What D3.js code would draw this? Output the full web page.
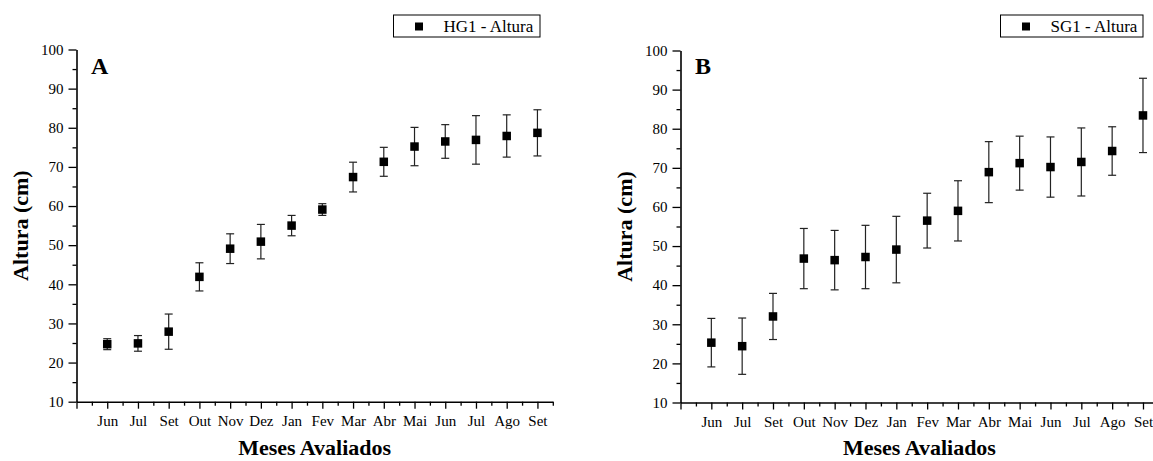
<!DOCTYPE html>
<html>
<head>
<meta charset="utf-8">
<script src="https://cdn.jsdelivr.net/npm/d3@7"></script>
<style>
  body { margin: 0; background: #fff; }
  svg { display: block; }
  svg text { font-family: 'Liberation Serif', 'Times New Roman', 'DejaVu Serif', serif; fill: #000; }
</style>
</head>
<body>
<svg id="chart" width="1153" height="461"></svg>
<script>
// meses avaliados (eixo x)
var meses = ["Jun", "Jul", "Set", "Out", "Nov", "Dez", "Jan", "Fev", "Mar", "Abr", "Mai", "Jun", "Jul", "Ago", "Set"];

// HG1 - altura media e desvio
var alturaHG1 = [24.7, 24.9, 27.9, 41.9, 49.1, 50.9, 55.0, 59.1, 67.4, 71.3, 75.2, 76.5, 76.9, 77.9, 78.7];
var erroHG1   = [1.4, 2.0, 4.5, 3.6, 3.8, 4.4, 2.6, 1.5, 3.8, 3.7, 4.9, 4.3, 6.2, 5.4, 5.9];

// SG1 - altura media e desvio
var alturaSG1 = [25.3, 24.4, 32.0, 46.8, 46.4, 47.2, 49.1, 56.5, 59.0, 68.9, 71.2, 70.2, 71.5, 74.3, 83.4];
var erroSG1   = [6.2, 7.2, 5.9, 7.7, 7.6, 8.1, 8.5, 7.0, 7.7, 7.8, 6.9, 7.7, 8.7, 6.2, 9.5];

var yTicks = [10, 20, 30, 40, 50, 60, 70, 80, 90, 100];
var yMinor = [15, 25, 35, 45, 55, 65, 75, 85, 95];

var svg = d3.select('#chart');
var serif = "'Liberation Serif', 'Times New Roman', 'DejaVu Serif', serif";

var painel = function(opts) {
  var x = d3.scaleLinear().domain([0, 15.5]).range([opts.x0, opts.x1]);
  var y = d3.scaleLinear().domain([10, 100]).range([opts.yBot, opts.yTop]);
  var g = svg.append('g');

  // eixo x - ticks maiores com nomes dos meses
  g.append('g')
      .attr('transform', 'translate(0,' + opts.yBot + ')')
      .call(d3.axisBottom(x)
        .tickValues(d3.range(0, 16))
        .tickFormat(function(d) { return d >= 1 ? meses[d - 1] : ''; })
        .tickSize(7).tickSizeOuter(0).tickPadding(7));
  // ticks menores
  var axm = g.append('g')
      .attr('transform', 'translate(0,' + opts.yBot + ')')
      .call(d3.axisBottom(x)
        .tickValues(d3.range(0.5, 16, 1))
        .tickFormat('')
        .tickSize(4).tickSizeOuter(0));
  axm.select('.domain').remove();

  g.append('g')
      .attr('transform', 'translate(' + opts.x0 + ',0)')
      .call(d3.axisLeft(y)
        .tickValues(yTicks)
        .tickSize(8).tickSizeOuter(0).tickPadding(5));
  var aym = g.append('g')
      .attr('transform', 'translate(' + opts.x0 + ',0)')
      .call(d3.axisLeft(y)
        .tickValues(yMinor)
        .tickFormat('')
        .tickSize(4).tickSizeOuter(0));
  aym.select('.domain').remove();

  g.selectAll('.domain').attr('stroke', '#000').attr('stroke-width', 1.6);
  g.selectAll('.tick line').attr('stroke', '#000').attr('stroke-width', 1.3);
  g.selectAll('.tick text')
      .attr('fill', '#000')
      .style('font-size', '15px')
      .style('font-family', serif);

  // barras de erro
  var pts = opts.valores.map(function(v, i) { return {i: i + 1, v: v, e: opts.erros[i]}; });
  var eb = g.append('g').selectAll('g').data(pts).enter().append('g')
      .attr('stroke', '#222').attr('stroke-width', 1.2);
  eb.append('line')
      .attr('x1', function(d) { return x(d.i); })
      .attr('x2', function(d) { return x(d.i); })
      .attr('y1', function(d) { return y(d.v - d.e); })
      .attr('y2', function(d) { return y(d.v + d.e); });
  [1, -1].forEach(function(s) {
    eb.append('line')
        .attr('x1', function(d) { return x(d.i) - 4; })
        .attr('x2', function(d) { return x(d.i) + 4; })
        .attr('y1', function(d) { return y(d.v + s * d.e); })
        .attr('y2', function(d) { return y(d.v + s * d.e); });
  });

  // marcadores quadrados
  var ms = 8.5;
  g.append('g').selectAll('rect').data(pts).enter().append('rect')
      .attr('x', function(d) { return x(d.i) - ms / 2; })
      .attr('y', function(d) { return y(d.v) - ms / 2; })
      .attr('width', ms).attr('height', ms)
      .attr('fill', '#000');

  // letra do painel
  g.append('text')
      .attr('x', opts.x0 + 14.5).attr('y', 74.3)
      .style('font-family', serif)
      .style('font-size', '24px').style('font-weight', 'bold')
      .text(opts.letra);

  // titulos dos eixos
  g.append('text')
      .attr('transform', 'translate(' + (opts.x0 - 49) + ',' + ((opts.yTop + opts.yBot) / 2) + ') rotate(-90)')
      .attr('text-anchor', 'middle')
      .style('font-family', serif)
      .style('font-size', '22px').style('font-weight', 'bold')
      .text('Altura (cm)');
  g.append('text')
      .attr('x', (opts.x0 + opts.x1) / 2).attr('y', 455)
      .attr('text-anchor', 'middle')
      .style('font-family', serif)
      .style('font-size', '22px').style('font-weight', 'bold')
      .text('Meses Avaliados');

  // legenda
  var lg = g.append('g');
  lg.append('rect')
      .attr('x', opts.legX).attr('y', 15)
      .attr('width', opts.legW).attr('height', 22)
      .attr('fill', '#fff').attr('stroke', '#000').attr('stroke-width', 1);
  lg.append('rect')
      .attr('x', opts.legX + 25.5 - 4).attr('y', 26.5 - 4)
      .attr('width', 8).attr('height', 8).attr('fill', '#000');
  lg.append('text')
      .attr('x', opts.legX + 50).attr('y', 32)
      .style('font-family', serif)
      .style('font-size', '17px')
      .text(opts.legenda);
};

painel({x0: 76.5, x1: 552.8, yTop: 49.5, yBot: 401.7, valores: alturaHG1, erros: erroHG1,
        letra: 'A', legenda: 'HG1 - Altura', legX: 393.5, legW: 146.5});
painel({x0: 680.5, x1: 1158.4, yTop: 50.5, yBot: 402.5, valores: alturaSG1, erros: erroSG1,
        letra: 'B', legenda: 'SG1 - Altura', legX: 1000.5, legW: 142.5});
</script>
</body>
</html>
